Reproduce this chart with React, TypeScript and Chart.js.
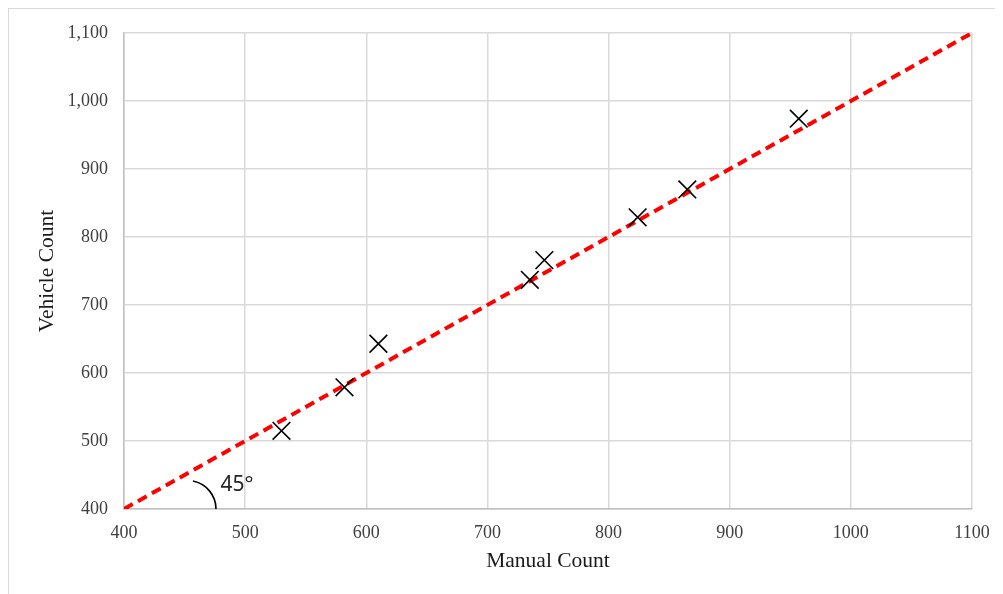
import React, { useEffect, useRef } from "react";
import { Chart, registerables } from "chart.js";

Chart.register(...registerables);

const manualCounts = [530, 582, 610, 735, 747, 824, 865, 957];
const vehicleCounts = [515, 579, 643, 737, 766, 829, 870, 974];
const refLineX = [400, 1100];
const refLineY = [400, 1100];
const angleLabel = "45°";
const arcCenter = { x: 452.4, y: 400 };

const serif = "'Liberation Serif', 'Times New Roman', serif";

const anglePlugin = {
  id: "angleMark",
  afterDatasetsDraw(chart: any) {
    const { ctx, scales } = chart;
    const cx = scales.x.getPixelForValue(arcCenter.x);
    const cy = scales.y.getPixelForValue(arcCenter.y);
    ctx.save();
    ctx.strokeStyle = "#000000";
    ctx.lineWidth = 1.6;
    ctx.beginPath();
    ctx.arc(cx, cy, 28.5, (-79 * Math.PI) / 180, 0);
    ctx.stroke();
    ctx.fillStyle = "#262626";
    ctx.font = "21px 'Noto Sans', 'Open Sans', sans-serif";
    ctx.textBaseline = "alphabetic";
    ctx.textAlign = "left";
    ctx.fillText(angleLabel, cx + 33, cy - 18);
    ctx.restore();
  },
};

export default function App() {
  const ref = useRef<HTMLCanvasElement>(null);

  useEffect(() => {
    if (!ref.current) return;
    const chart = new Chart(ref.current, {
      type: "scatter",
      data: {
        datasets: [
          {
            type: "line",
            label: "45 degree line",
            data: refLineX.map((x, i) => ({ x, y: refLineY[i] })),
            borderColor: "#ff0000",
            borderWidth: 4,
            borderDash: [10, 6],
            pointRadius: 0,
            fill: false,
            order: 2,
          },
          {
            label: "Counts",
            data: manualCounts.map((x, i) => ({ x, y: vehicleCounts[i] })),
            pointStyle: "crossRot",
            pointRadius: 12.5,
            pointBorderColor: "#000000",
            pointBorderWidth: 1.6,
            borderColor: "#000000",
            backgroundColor: "#000000",
            order: 1,
          } as any,
        ],
      },
      options: {
        animation: false,
        responsive: false,
        maintainAspectRatio: false,
        layout: { padding: { top: 24, right: 32, left: 0, bottom: 0 } },
        plugins: { legend: { display: false }, tooltip: { enabled: false } },
        scales: {
          x: {
            type: "linear",
            min: 400,
            max: 1100,
            ticks: {
              stepSize: 100,
              padding: 13,
              color: "#404040",
              font: { family: serif, size: 18 },
              callback: (v: any) => String(v),
            },
            grid: { color: "#d9d9d9", lineWidth: 1.5, drawTicks: false },
            border: { color: "#bfbfbf", width: 1.5 },
            title: {
              display: true,
              text: "Manual Count",
              color: "#1a1a1a",
              font: { family: serif, size: 21.5 },
              padding: { top: 0, bottom: 21 },
            },
            afterFit: (s: any) => {
              s.height = 86;
              s.paddingLeft = 0;
              s.paddingRight = 0;
            },
          },
          y: {
            type: "linear",
            min: 400,
            max: 1100,
            ticks: {
              stepSize: 100,
              padding: 16,
              color: "#404040",
              font: { family: serif, size: 18 },
              callback: (v: any) => Number(v).toLocaleString("en-US"),
            },
            grid: { color: "#d9d9d9", lineWidth: 1.5, drawTicks: false },
            border: { color: "#bfbfbf", width: 1.5 },
            title: {
              display: true,
              text: "Vehicle Count",
              color: "#1a1a1a",
              font: { family: serif, size: 21.5 },
              padding: { top: 25, bottom: 0 },
            },
            afterFit: (s: any) => {
              s.width = 115;
              s.paddingTop = 0;
              s.paddingBottom = 0;
            },
          },
        },
      },
      plugins: [anglePlugin],
    });
    return () => chart.destroy();
  }, []);

  return (
    <div
      style={{
        border: "1px solid #d9d9d9",
        width: 1000,
        height: 600,
        boxSizing: "border-box",
        background: "#fff",
      }}
    >
      <canvas ref={ref} width={995} height={586} style={{ display: "block" }} />
    </div>
  );
}
